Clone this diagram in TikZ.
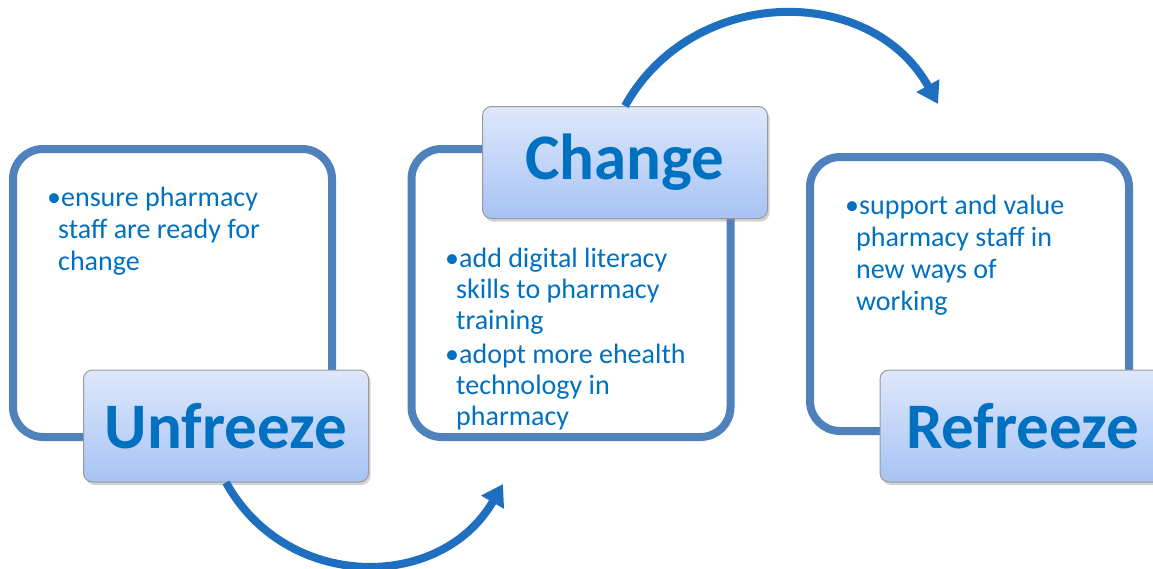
\documentclass[tikz,border=0pt]{standalone}
\usepackage{fontspec}
\setmainfont{Carlito}
\usetikzlibrary{arrows.meta, positioning, shadows}

\definecolor{framecol}{HTML}{4F81BD}
\definecolor{textcol}{HTML}{0070C0}
\definecolor{arrowcol}{HTML}{1F6FC1}
\definecolor{headtop}{HTML}{DDE8FC}
\definecolor{headbot}{HTML}{A7C3F4}

\begin{document}
\begin{tikzpicture}[x=1pt, y=1pt,
  stagebox/.style = {draw=framecol, line width=8pt, rounded corners=30pt, minimum width=319pt, minimum height=288pt},
  stagehead/.style = {draw=gray!80, line width=1pt, rounded corners=9pt, top color=headtop, bottom color=headbot,
    minimum width=285pt, minimum height=112pt, text=textcol, font=\fontsize{65}{70}\selectfont\bfseries,
    drop shadow={shadow xshift=2pt, shadow yshift=-3pt, opacity=0.35}},
  bullets/.style = {anchor=north west, inner sep=0pt, align=left, text=textcol, font=\fontsize{28}{32}\selectfont},
  flow/.style = {draw=arrowcol, line width=8pt, -{Triangle[length=21pt, width=25pt]}}
]
\useasboundingbox (0,0) rectangle (1153,-568);

\node[stagebox] (unfreezebox) at (172.5,-293) {};
\node[stagebox] (changebox) at (571,-293) {};
\node[stagebox, minimum height=274pt] (refreezebox) at (969.5,-294) {};

\node[bullets] (unfreezetxt) at (47,-187) {•ensure pharmacy\\\hspace*{11pt}staff are ready for\\\hspace*{11pt}change};
\node[bullets, font=\fontsize{28}{31}\selectfont] (changetxt) at (445,-248) {•add digital literacy\\\hspace*{11pt}skills to pharmacy\\\hspace*{11pt}training\\[3pt]•adopt more ehealth\\\hspace*{11pt}technology in\\\hspace*{11pt}pharmacy};
\node[bullets] (refreezetxt) at (845,-195) {•support and value\\\hspace*{11pt}pharmacy staff in\\\hspace*{11pt}new ways of\\\hspace*{11pt}working};

\node[stagehead] (unfreeze) at (226,-426) {Unfreeze};
\node[stagehead] (change) at (625,-162.5) {Change};
\node[stagehead] (refreeze) at (1022.5,-426) {Refreeze};

\coordinate (tipa) at (503,-484);
\coordinate (tipb) at (938,-104);
\draw[flow] (unfreeze.south) to[out=-61, in=-120, looseness=1.15] (tipa);
\draw[flow] (change.north) to[out=61, in=119, looseness=1.13] (tipb);
\end{tikzpicture}
\end{document}
